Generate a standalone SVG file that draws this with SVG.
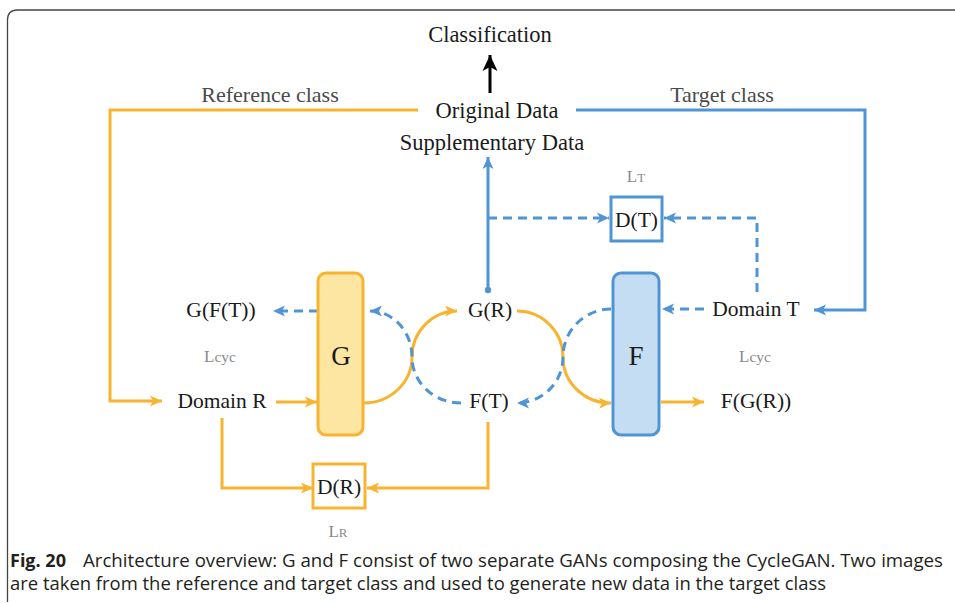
<svg xmlns="http://www.w3.org/2000/svg" width="955" height="603" viewBox="0 0 955 603">
<defs>
<style>
.lbl{font-family:"Liberation Serif","Times New Roman",serif;font-size:21.5px;fill:#1a1a1a;text-anchor:middle}
.big{font-size:22.5px}
.cls{font-family:"Liberation Serif","Times New Roman",serif;font-size:22px;fill:#4a4a4a;text-anchor:middle}
.loss{font-family:"Liberation Serif","Times New Roman",serif;font-size:17px;fill:#8a8a8a;text-anchor:middle}
.gen{font-family:"Liberation Serif","Times New Roman",serif;font-size:27px;fill:#1a1a1a;text-anchor:middle}
.cap{font-family:"Open Sans","Noto Sans","Liberation Sans",sans-serif;font-size:18px;fill:#231f20}
.or{fill:none;stroke:#F8B430;stroke-width:3}
.bl{fill:none;stroke:#4F95D5;stroke-width:3}
.dash{stroke-dasharray:9 6}
</style>
<marker id="ao" markerUnits="userSpaceOnUse" markerWidth="13" markerHeight="12" refX="12" refY="6" orient="auto">
<path d="M0,0.5 L12,6 L0,11.5 L3,6 z" fill="#F8B430"/>
</marker>
<marker id="ab" markerUnits="userSpaceOnUse" markerWidth="13" markerHeight="12" refX="12" refY="6" orient="auto">
<path d="M0,0.5 L12,6 L0,11.5 L3,6 z" fill="#4F95D5"/>
</marker>
<marker id="ak" markerUnits="userSpaceOnUse" markerWidth="18" markerHeight="18" refX="16" refY="8" orient="auto">
<path d="M0,0.5 L16,8 L0,15.5 L4,8 z" fill="#000"/>
</marker>
</defs>
<rect width="955" height="603" fill="#fff"/>
<path d="M7.5,602 V20 Q7.5,10 17.5,10 H955" fill="none" stroke="#444" stroke-width="1.3"/>

<g id="connectors">
<path d="M490,93 V55" fill="none" stroke="#000" stroke-width="3" marker-end="url(#ak)"/>
<path class="or" d="M418,110 H110 V401 H162" marker-end="url(#ao)"/>
<path class="or" d="M276,402 H317" marker-end="url(#ao)"/>
<path class="or" d="M364,403 A48,46 0 0 0 412,357 A45,46 0 0 1 457,311" marker-end="url(#ao)"/>
<path class="or" d="M517,311 A46,46 0 0 1 563,357 A47,46 0 0 0 611,403" marker-end="url(#ao)"/>
<path class="or" d="M661,402 H704" marker-end="url(#ao)"/>
<path class="or" d="M222,418 V488 H313" marker-end="url(#ao)"/>
<path class="or" d="M488,422 V488 H367" marker-end="url(#ao)"/>
<path class="bl" d="M576,110 H865 V310 H814" marker-end="url(#ab)"/>
<path class="bl" d="M488,290 V157" marker-end="url(#ab)"/>
<circle cx="488" cy="290" r="3.2" fill="#4F95D5"/>
<path class="bl dash" d="M488,218 H609" marker-end="url(#ab)"/>
<path class="bl dash" d="M757,292 V218 H664" marker-end="url(#ab)"/>
<path class="bl dash" d="M704,309 H662" marker-end="url(#ab)"/>
<path class="bl dash" d="M611,309 A48,48 0 0 0 563,357 A46,46 0 0 1 517,403" marker-end="url(#ab)"/>
<path class="bl dash" d="M318,311 H273" marker-end="url(#ab)"/>
<path class="bl dash" d="M461,403 A49,46 0 0 1 412,357 A42,46 0 0 0 370,311" marker-end="url(#ab)"/>
</g>

<g id="classification"><text class="lbl big" x="490" y="42">Classification</text></g>
<g id="original-data"><text class="lbl big" x="497" y="118">Original Data</text></g>
<g id="supplementary-data"><text class="lbl big" x="492" y="150">Supplementary Data</text></g>
<g id="reference-class-label"><text class="cls" x="270" y="102">Reference class</text></g>
<g id="target-class-label"><text class="cls" x="722" y="102">Target class</text></g>

<g id="G">
<rect x="318" y="273" width="45" height="162" rx="8" fill="#FCE6A1" stroke="#F8B430" stroke-width="3"/>
<text class="gen" x="341" y="365">G</text>
</g>
<g id="F">
<rect x="613" y="273" width="46" height="162" rx="8" fill="#C4DDF2" stroke="#4F95D5" stroke-width="3"/>
<text class="gen" x="636" y="365">F</text>
</g>
<g id="DT">
<rect x="611" y="197" width="51" height="44" fill="#fff" stroke="#4F95D5" stroke-width="3"/>
<text class="lbl" x="636.5" y="227">D(T)</text>
</g>
<g id="DR">
<rect x="313" y="464" width="52" height="44" fill="#fff" stroke="#F8B430" stroke-width="3"/>
<text class="lbl" x="339" y="494">D(R)</text>
</g>
<g id="GFT"><text class="lbl" x="221" y="317">G(F(T))</text></g>
<g id="domain-R"><text class="lbl" x="222" y="408">Domain R</text></g>
<g id="GR"><text class="lbl" x="490" y="317">G(R)</text></g>
<g id="FT"><text class="lbl" x="489" y="408">F(T)</text></g>
<g id="domain-T"><text class="lbl" x="756" y="316">Domain T</text></g>
<g id="FGR"><text class="lbl" x="756" y="408">F(G(R))</text></g>
<g id="Lcyc-left"><text class="loss" x="220" y="362">L<tspan font-size="15.5">cyc</tspan></text></g>
<g id="Lcyc-right"><text class="loss" x="755" y="362">L<tspan font-size="15.5">cyc</tspan></text></g>
<g id="LT"><text class="loss" x="636" y="182">L<tspan font-size="13">T</tspan></text></g>
<g id="LR"><text class="loss" x="338" y="537">L<tspan font-size="13">R</tspan></text></g>

<g id="caption">
<text class="cap" x="10" y="567"><tspan font-weight="bold">Fig. 20</tspan><tspan x="83" textLength="860" lengthAdjust="spacingAndGlyphs">Architecture overview: G and F consist of two separate GANs composing the CycleGAN. Two images</tspan></text>
<text class="cap" x="10" y="590" textLength="816" lengthAdjust="spacingAndGlyphs">are taken from the reference and target class and used to generate new data in the target class</text>
</g>
</svg>
